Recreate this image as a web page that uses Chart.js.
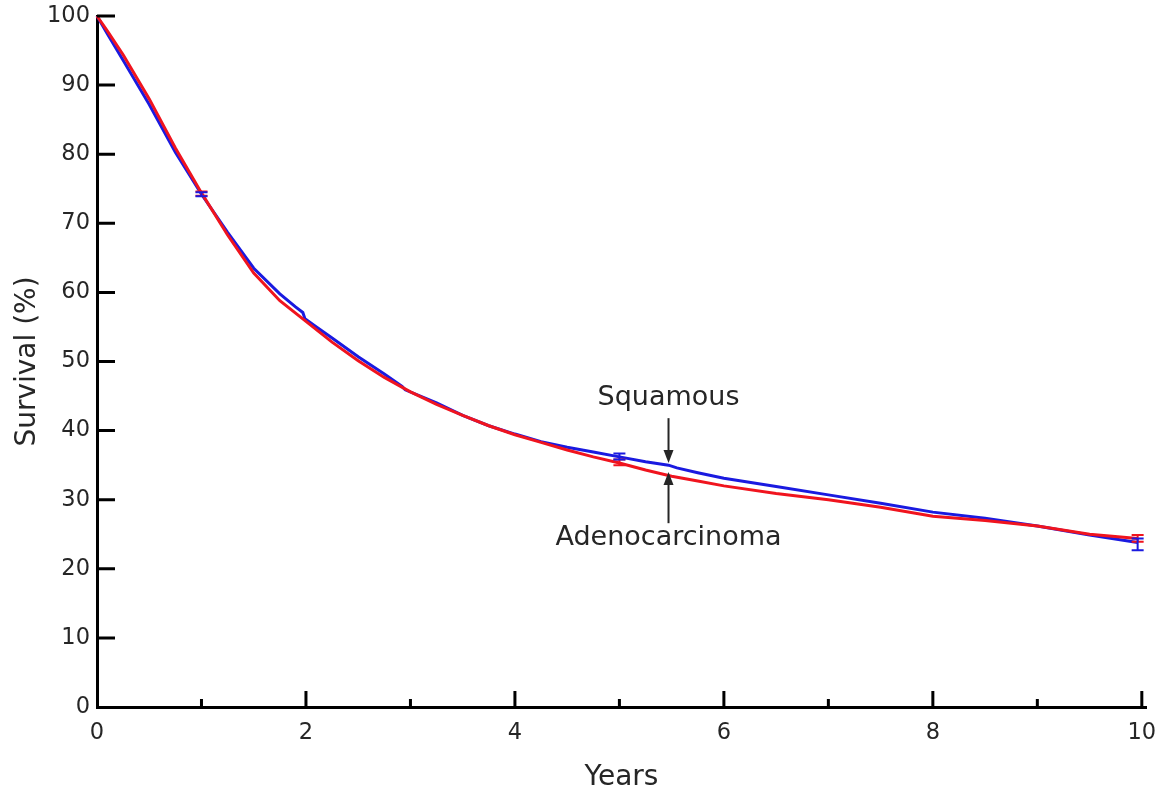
<!DOCTYPE html>
<html>
<head>
<meta charset="utf-8">
<script src="https://cdn.jsdelivr.net/npm/chart.js@4"></script>
<style>
  html, body { margin: 0; padding: 0; background: #fff; }
  #wrap { width: 1157px; height: 799px; }
</style>
</head>
<body>
<div id="wrap"><canvas id="c" width="1157" height="799"></canvas></div>
<script>
// survival curves (years, %)
const squamousX = [0, 0.1, 0.25, 0.5, 0.75, 1.0, 1.25, 1.5, 1.75, 1.9, 1.97, 1.99, 2.1, 2.25, 2.5, 2.75, 2.92, 2.95, 3.25, 3.5, 3.75, 4.0, 4.25, 4.5, 4.75, 5.0, 5.25, 5.47, 5.55, 5.75, 6.0, 6.5, 7.0, 7.5, 8.0, 8.5, 9.0, 9.5, 9.96];
const squamousY = [100, 97.4, 93.6, 87.2, 80.3, 74.2, 68.7, 63.5, 59.8, 57.9, 57.1, 56.2, 55.0, 53.4, 50.7, 48.2, 46.4, 45.9, 44.0, 42.2, 40.7, 39.5, 38.4, 37.6, 36.9, 36.2, 35.5, 35.0, 34.6, 33.9, 33.1, 31.9, 30.7, 29.5, 28.2, 27.3, 26.2, 24.9, 23.8];

const adenoX = [0, 0.1, 0.25, 0.5, 0.75, 1.0, 1.25, 1.5, 1.75, 2.0, 2.25, 2.5, 2.75, 3.0, 3.25, 3.5, 3.75, 4.0, 4.25, 4.5, 4.75, 5.0, 5.25, 5.5, 5.75, 6.0, 6.5, 7.0, 7.5, 8.0, 8.5, 9.0, 9.5, 9.96];
const adenoY = [100, 97.8, 94.4, 88.0, 80.9, 74.4, 68.3, 62.8, 58.8, 55.8, 52.8, 50.1, 47.7, 45.6, 43.8, 42.2, 40.7, 39.4, 38.3, 37.2, 36.2, 35.3, 34.3, 33.4, 32.7, 32.0, 30.9, 30.0, 28.9, 27.6, 27.0, 26.2, 25.0, 24.4];

// confidence bars [x, low, high]
const squamousErr = [[1, 73.9, 74.5], [5, 35.8, 36.7], [9.96, 22.7, 24.4]];
const adenoErr = [[1, 74.0, 74.6], [5, 35.0, 35.8], [9.96, 23.9, 24.9]];

const xTicks = [0, 1, 2, 3, 4, 5, 6, 7, 8, 9, 10];
const yTicks = [0, 10, 20, 30, 40, 50, 60, 70, 80, 90, 100];

// labels with arrows: [text, x, textY, tailY, tipY]
const labels = [
  ['Squamous', 5.47, 44.7, 41.8, 35.3],
  ['Adenocarcinoma', 5.47, 24.5, 26.6, 34.0],
];

const RED = '#f0141e';
const BLUE = '#1a1ae0';
const INK = '#262626';
const FONT = '"DejaVu Sans", sans-serif';

const toPts = (xs, ys) => xs.map((x, i) => ({ x, y: ys[i] }));

const axisMarks = {
  id: 'axisMarks',
  afterDatasetsDraw(chart) {
    const { ctx, chartArea, scales: { x, y } } = chart;
    ctx.save();
    ctx.strokeStyle = '#000';
    ctx.lineWidth = 3;
    ctx.beginPath();
    yTicks.forEach(v => {
      if (v === 0) return;
      const py = y.getPixelForValue(v);
      ctx.moveTo(chartArea.left, py);
      ctx.lineTo(chartArea.left + 18, py);
    });
    xTicks.forEach(v => {
      if (v === 0) return;
      const px = x.getPixelForValue(v);
      const len = v % 2 === 0 ? 16 : 8;
      ctx.moveTo(px, chartArea.bottom);
      ctx.lineTo(px, chartArea.bottom - len);
    });
    ctx.stroke();

    // error bars
    const drawErr = (list, color) => {
      ctx.strokeStyle = color;
      ctx.lineWidth = 2;
      ctx.beginPath();
      list.forEach(([xv, lo, hi]) => {
        const px = x.getPixelForValue(xv);
        const p1 = y.getPixelForValue(lo);
        const p2 = y.getPixelForValue(hi);
        ctx.moveTo(px, p1); ctx.lineTo(px, p2);
        ctx.moveTo(px - 6, p1); ctx.lineTo(px + 6, p1);
        ctx.moveTo(px - 6, p2); ctx.lineTo(px + 6, p2);
      });
      ctx.stroke();
    };
    drawErr(adenoErr, RED);
    drawErr(squamousErr, BLUE);

    // labels and arrows
    ctx.fillStyle = INK;
    ctx.strokeStyle = INK;
    ctx.font = '27px ' + FONT;
    ctx.textAlign = 'center';
    ctx.textBaseline = 'middle';
    labels.forEach(([text, xv, ty, tail, tip]) => {
      const px = x.getPixelForValue(xv);
      ctx.fillText(text, px, y.getPixelForValue(ty));
      const a = y.getPixelForValue(tail);
      const b = y.getPixelForValue(tip);
      const dir = b > a ? 1 : -1;
      ctx.lineWidth = 2;
      ctx.beginPath();
      ctx.moveTo(px, a);
      ctx.lineTo(px, b - dir * 10);
      ctx.stroke();
      ctx.beginPath();
      ctx.moveTo(px, b);
      ctx.lineTo(px - 5, b - dir * 13);
      ctx.lineTo(px + 5, b - dir * 13);
      ctx.closePath();
      ctx.fill();
    });
    ctx.restore();
  }
};

new Chart(document.getElementById('c'), {
  type: 'line',
  data: {
    datasets: [
      {
        label: 'Adenocarcinoma',
        data: toPts(adenoX, adenoY),
        borderColor: RED,
        borderWidth: 3,
        pointRadius: 0,
        tension: 0,
        clip: 6
      },
      {
        label: 'Squamous',
        data: toPts(squamousX, squamousY),
        borderColor: BLUE,
        borderWidth: 3,
        pointRadius: 0,
        tension: 0,
        clip: 6
      }
    ]
  },
  options: {
    responsive: false,
    animation: false,
    devicePixelRatio: 1,
    layout: { padding: { left: 0, top: 16, right: 11, bottom: 0 } },
    plugins: { legend: { display: false }, tooltip: { enabled: false } },
    scales: {
      x: {
        type: 'linear',
        min: 0,
        max: 10.04,
        afterBuildTicks: s => { s.ticks = xTicks.map(v => ({ value: v })); },
        afterFit: s => { s.height = 92; s.paddingLeft = 0; s.paddingRight = 0; },
        grid: { display: false, drawTicks: false },
        border: { display: true, color: '#000', width: 3 },
        ticks: {
          autoSkip: false,
          maxRotation: 0,
          padding: 13,
          color: INK,
          font: { family: FONT, size: 22.5 },
          callback: v => (v % 2 === 0 ? String(v) : '')
        },
        title: {
          display: true,
          text: 'Years',
          color: INK,
          font: { family: FONT, size: 28 },
          padding: { top: 0, bottom: 4 }
        }
      },
      y: {
        min: 0,
        max: 100,
        afterBuildTicks: s => { s.ticks = yTicks.map(v => ({ value: v })); },
        afterFit: s => { s.width = 97; s.paddingTop = 0; s.paddingBottom = 0; },
        grid: { display: false, drawTicks: false },
        border: { display: true, color: '#000', width: 3 },
        ticks: {
          padding: 7,
          color: INK,
          font: { family: FONT, size: 22.5 }
        },
        title: {
          display: true,
          text: 'Survival (%)',
          color: INK,
          font: { family: FONT, size: 28 },
          padding: { top: 11, bottom: 0 }
        }
      }
    }
  },
  plugins: [axisMarks]
});
</script>
</body>
</html>
